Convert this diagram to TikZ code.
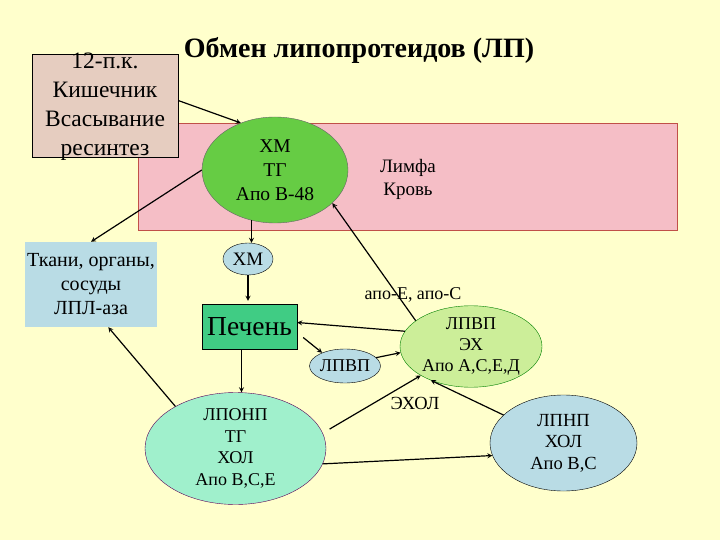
\documentclass[tikz,border=0pt]{standalone}
\usepackage{fontspec}
\setmainfont{Liberation Serif}
\usetikzlibrary{shapes.geometric}

\definecolor{bgyellow}{HTML}{FFFFCC}
\definecolor{lymphpink}{HTML}{F5BEC6}
\definecolor{lymphline}{HTML}{C05048}
\definecolor{gutbrown}{HTML}{E6CDC0}
\definecolor{chylogreen}{HTML}{66CC44}
\definecolor{paleblue}{HTML}{B9DCE5}
\definecolor{livergreen}{HTML}{40CC84}
\definecolor{vldlaqua}{HTML}{A0F0CC}
\definecolor{hdllime}{HTML}{CCEE99}

\begin{document}
\begin{tikzpicture}[x=1pt, y=-1pt,
        blob/.style={draw, ellipse, inner sep=0pt, align=center},
        card/.style={rectangle, inner sep=0pt, align=center},
        flow/.style={->, >=stealth, line width=1.2pt},
        txt/.style={font=\fontsize{19}{23}\selectfont, align=center}
    ]

    % Page
    \fill[bgyellow] (0,0) rectangle (720,540);
    \useasboundingbox (0,0) rectangle (720,540);

    % Title
    \node[font=\fontsize{28}{32}\selectfont\bfseries] (title) at (359,50) {Обмен липопротеидов (ЛП)};

    % Lymph / blood zone
    \node[card, draw=lymphline, fill=lymphpink, minimum width=539pt, minimum height=107pt] (lymph) at (407.5,176.5) {};
    \node[txt] (lymphtxt) at (408,179) {Лимфа\\Кровь};

    % Intestine
    \node[card, draw, fill=gutbrown, minimum width=146pt, minimum height=103pt] (gut) at (105,105.5) {};
    \node[txt, font=\fontsize{23.5}{29}\selectfont] (guttxt) at (105,107) {12-п.к.\\Кишечник\\Всасывание\\ресинтез};

    % Chylomicrons
    \node[blob, draw=black!60, fill=chylogreen, minimum width=146pt, minimum height=106pt, font=\fontsize{19.5}{24}\selectfont] (chylo) at (275,170) {ХМ\\ТГ\\Апо В-48};

    % Tissues
    \node[card, fill=paleblue, minimum width=132pt, minimum height=85pt, font=\fontsize{20}{24}\selectfont] (tissue) at (91,284.5) {Ткани, органы,\\сосуды\\ЛПЛ-аза};

    % Remnant, liver
    \node[blob, fill=paleblue, minimum width=50pt, minimum height=32pt, font=\fontsize{19}{22}\selectfont] (xm) at (248,259) {ХМ};
    \node[card, draw, fill=livergreen, minimum width=95pt, minimum height=45pt, font=\fontsize{27.5}{32}\selectfont] (liver) at (249.5,326.5) {Печень};

    % VLDL, HDL, LDL
    \node[blob, draw=violet!70!black, fill=vldlaqua, minimum width=181pt, minimum height=107pt, font=\fontsize{18}{21.5}\selectfont] (vldl) at (235.5,448.5) {ЛПОНП\\ТГ\\ХОЛ\\Апо В,С,Е};
    \node[blob, draw=green!50!black, fill=hdllime, minimum width=142pt, minimum height=73pt, font=\fontsize{18}{21}\selectfont] (hdl) at (471,346.5) {ЛПВП\\ЭХ\\Апо А,С,Е,Д};
    \node[blob, fill=paleblue, minimum width=60pt, minimum height=34pt, font=\fontsize{18}{21}\selectfont] (hdls) at (345,366) {ЛПВП};
    \node[blob, fill=paleblue, minimum width=147pt, minimum height=96pt, font=\fontsize{18.5}{21.5}\selectfont] (ldl) at (563.5,443) {ЛПНП\\ХОЛ\\Апо В,С};

    % Labels
    \node[font=\fontsize{18}{21}\selectfont] (apolab) at (413,295) {апо-Е, апо-С};
    \node[font=\fontsize{18.5}{21}\selectfont] (ecollab) at (415,403) {ЭХОЛ};

    % Connectors
    \draw[flow] ([yshift=5pt]gut.east) -- (chylo.126);
    \draw[flow] (chylo.180) -- (tissue.north);
    \draw[flow] (chylo.245) -- (chylo.245 |- xm.north);
    \draw[flow, shorten >=3pt] (xm.south) -- (xm.south |- liver.north);
    \draw[flow] ([xshift=-8pt]liver.south) -- ([xshift=-8pt]liver.south |- vldl.north);
    \draw[flow] (vldl.145) -- (tissue.-68);
    \draw[flow] (hdl.167) -- ([yshift=4pt]liver.east);
    \draw[flow] (hdl.155) -- (chylo.-30);
    \draw[flow] ([xshift=6pt,yshift=-11pt]liver.east) -- (hdls.150);
    \draw[flow] (hdls.15) -- (hdl.185);
    \draw[flow, shorten <=8pt] (vldl.10) -- (hdl.210);
    \draw[flow] (vldl.-10) -- (ldl.190);
    \draw[flow] (ldl.155) -- (hdl.220);

\end{tikzpicture}
\end{document}
